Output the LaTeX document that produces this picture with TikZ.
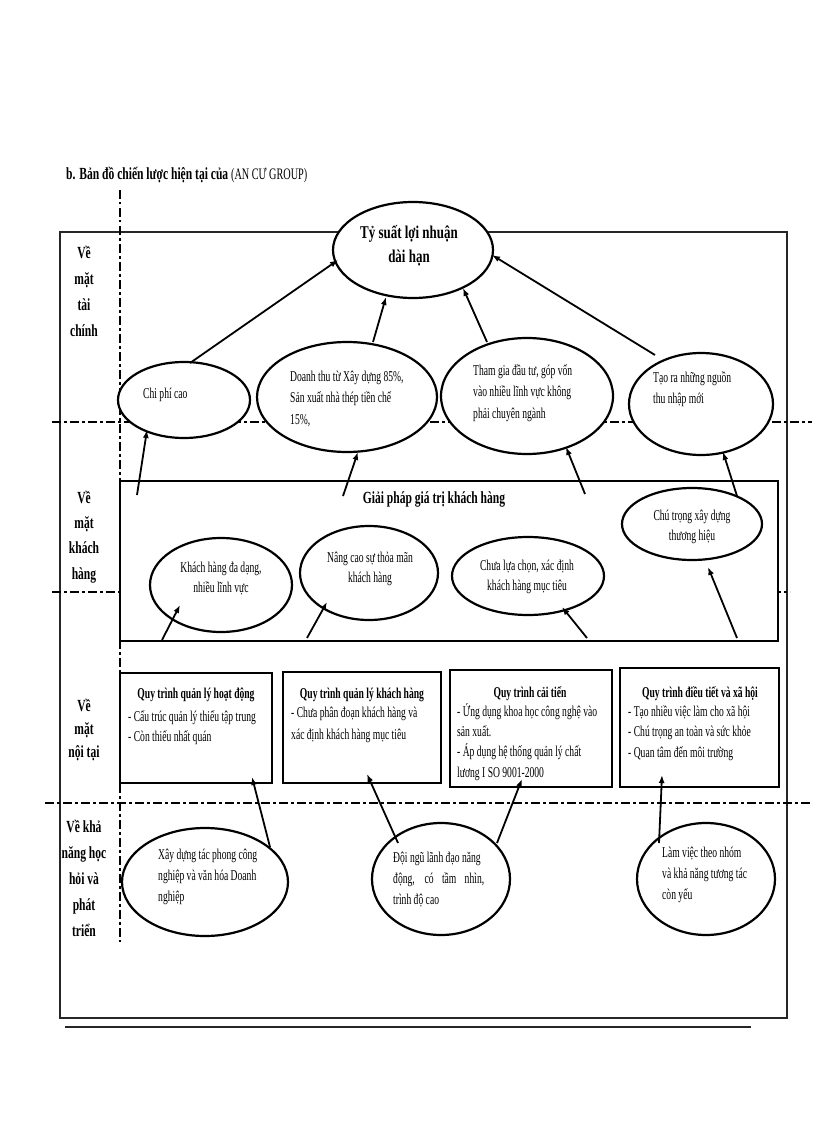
\documentclass[tikz,border=0pt]{standalone}
\usepackage{fontspec}
\setmainfont{Liberation Serif}
\newfontfamily\condA[FakeStretch=0.64]{Liberation Serif}
\newfontfamily\condB[FakeStretch=0.68]{Liberation Serif}
\newfontfamily\condC[FakeStretch=0.72]{Liberation Serif}
\usetikzlibrary{shapes.geometric,arrows.meta,calc}
\tikzset{
  ell/.style={ellipse, draw, line width=2.2pt, fill=white, inner sep=0pt},
  pbox/.style={rectangle, draw, line width=2.2pt, fill=white, inner sep=0pt},
  txt/.style={inner sep=0pt, font=\condA\fontsize{15}{21.5}\selectfont, align=left, anchor=base west},
  ctxt/.style={inner sep=0pt, font=\condA\fontsize{15}{20.5}\selectfont, align=center, anchor=base},
  btitle/.style={inner sep=0pt, font=\condA\bfseries\fontsize{15}{20}\selectfont, anchor=base},
  lab/.style={inner sep=0pt, align=center, anchor=base},
  arr/.style={-{Latex[length=8pt,width=6pt]}, line width=1.8pt},
  sep/.style={line width=1.6pt, dash pattern=on 9pt off 3pt on 2.5pt off 3.5pt},
  frame/.style={line width=1.6pt, draw=black!85}
}
\begin{document}
\begin{tikzpicture}[x=1pt,y=-1pt]
\useasboundingbox (0,0) rectangle (816,1123);
\fill[white] (0,0) rectangle (816,1123);

% title
\node[inner sep=0pt, anchor=base west] (title) at (66,180)
  {\condB\bfseries\fontsize{17}{20}\selectfont b. Bản đồ chiến lược hiện tại của {\condA\mdseries\fontsize{16}{20}\selectfont (AN CƯ GROUP)}};

% frame and separators
\draw[frame] (60,232) rectangle (787,1018);
\draw[line width=2pt, black!85] (65,1027) -- (751,1027);
\draw[sep] (52,422) -- (812,422);
\draw[sep] (52,592) -- (790,592);
\draw[sep] (45,803) -- (812,803);
\draw[sep] (120,190) -- (120,942);

% perspective labels (anchor = baseline of last line)
\node[lab, font=\condB\bfseries\fontsize{17}{25.7}\selectfont] (lfin) at (84,336) {Về\\mặt\\tài\\chính};
\node[lab, font=\condB\bfseries\fontsize{17}{25.3}\selectfont] (lcus) at (84,579) {Về\\mặt\\khách\\hàng};
\node[lab, font=\condB\bfseries\fontsize{17}{23}\selectfont] (lint) at (84,757) {Về\\mặt\\nội tại};
\node[lab, font=\condB\bfseries\fontsize{17}{25.8}\selectfont] (llrn) at (84,936) {Về khả\\năng học\\hỏi và\\phát\\triển};

% financial
\node[ell, minimum width=160pt, minimum height=96pt] (T) at (413,250) {};
\node[lab, font=\condC\bfseries\fontsize{18}{24}\selectfont] (tT) at (409,262) {Tỷ suất lợi nhuận\\dài hạn};

\node[ell, minimum width=132pt, minimum height=76pt] (C1) at (184,400) {};
\node[txt] (tC1) at (143,398) {Chi phí cao};
\node[ell, minimum width=180pt, minimum height=110pt] (C2) at (347,397) {};
\node[txt] (tC2) at (290,424) {Doanh thu từ Xây dựng 85\%,\\Sản xuất nhà thép tiền chế\\15\%,};
\node[ell, minimum width=172pt, minimum height=116pt] (C3) at (527,396) {};
\node[txt] (tC3) at (473,418) {Tham gia đầu tư, góp vốn\\vào nhiều lĩnh vực không\\phải chuyên ngành};
\node[ell, minimum width=144pt, minimum height=102pt] (C4) at (701,404) {};
\node[txt] (tC4) at (653,403.5) {Tạo ra những nguồn\\thu nhập mới};

% customer
\node[pbox, line width=2.5pt, minimum width=658pt, minimum height=160pt] (CB) at (449,561) {};
\node[lab, font=\condB\bfseries\fontsize{17}{20}\selectfont] (tCB) at (434,503) {Giải pháp giá trị khách hàng};
\node[ell, minimum width=142pt, minimum height=94pt] (KH) at (221,585) {};
\node[ctxt] (tKH) at (221,592.5) {Khách hàng đa dạng,\\nhiều lĩnh vực};
\node[ell, minimum width=138pt, minimum height=94pt] (NC) at (369,573) {};
\node[ctxt] (tNC) at (370,582.5) {Nâng cao sự thỏa mãn\\khách hàng};
\node[ell, minimum width=152pt, minimum height=78pt] (CL) at (528,576) {};
\node[ctxt] (tCL) at (527,590.5) {Chưa lựa chọn, xác định\\khách hàng mục tiêu};
\node[ell, minimum width=140pt, minimum height=72pt] (CH) at (692,524) {};
\node[ctxt] (tCH) at (692,540.5) {Chú trọng xây dựng\\thương hiệu};

% internal
\node[pbox, minimum width=152pt, minimum height=110pt] (P1) at (196,728) {};
\node[btitle] (hP1) at (196,698) {Quy trình quản lý hoạt động};
\node[txt, font=\condA\fontsize{15}{20}\selectfont] (tP1) at (128,741) {- Cấu trúc quản lý thiếu tập trung\\- Còn thiếu nhất quán};
\node[pbox, minimum width=158pt, minimum height=111pt] (P2) at (362,727.5) {};
\node[btitle] (hP2) at (362,698) {Quy trình quản lý khách hàng};
\node[txt, font=\condA\fontsize{15}{22}\selectfont] (tP2) at (291,739) {- Chưa phân đoạn khách hàng và\\xác định khách hàng mục tiêu};
\node[pbox, minimum width=162pt, minimum height=117pt] (P3) at (531,728.5) {};
\node[btitle] (hP3) at (530,697) {Quy trình cải tiến};
\node[txt, font=\condA\fontsize{15}{20.3}\selectfont] (tP3) at (457,777) {- Ứng dụng khoa học công nghệ vào\\sản xuất.\\- Áp dụng hệ thống quản lý chất\\lương I SO 9001-2000};
\node[pbox, minimum width=159pt, minimum height=119pt] (P4) at (699.5,727.5) {};
\node[btitle] (hP4) at (700,697) {Quy trình điều tiết và xã hội};
\node[txt, font=\condA\fontsize{15}{20.5}\selectfont] (tP4) at (628,757) {- Tạo nhiều việc làm cho xã hội\\- Chú trọng an toàn và sức khỏe\\- Quan tâm đến môi trường};

% learning
\node[ell, minimum width=166pt, minimum height=108pt] (L1) at (205,882) {};
\node[txt, font=\condA\fontsize{15}{21}\selectfont] (tL1) at (158,901) {Xây dựng tác phong công\\nghiệp và văn hóa Doanh\\nghiệp};
\node[ell, minimum width=138pt, minimum height=112pt] (L2) at (441,879) {};
\node[txt, font=\condA\fontsize{15}{21}\selectfont] (tL2) at (393,904) {Đội ngũ lãnh đạo năng\\\makebox[91pt][s]{động, có tầm nhìn,}\\trình độ cao};
\node[ell, minimum width=138pt, minimum height=112pt] (L3) at (706,879) {};
\node[txt, font=\condA\fontsize{15}{21}\selectfont] (tL3) at (662,899) {Làm việc theo nhóm\\và khả năng tương tác\\còn yếu};

% arrows: financial -> top
\draw[arr] ([shift={(6,-37)}]C1.center) -- ([shift={(-75,10)}]T.center);
\draw[arr] ([shift={(26,-55)}]C2.center) -- ([shift={(-27,47)}]T.center);
\draw[arr] ([shift={(-40,-54)}]C3.center) -- ([shift={(50,38)}]T.center);
\draw[arr] ([shift={(-46,-49)}]C4.center) -- ([shift={(79,5)}]T.center);
% customer -> financial
\draw[arr] ([shift={(-312,-66)}]CB.center) -- ([shift={(-37,30)}]C1.center);
\draw[arr] ([shift={(-106,-65)}]CB.center) -- ([shift={(11,55)}]C2.center);
\draw[arr] ([shift={(136,-67)}]CB.center) -- ([shift={(39,51)}]C3.center);
\draw[arr] ([shift={(45,-28)}]CH.center) -- ([shift={(22,48)}]C4.center);
% box bottom -> customer ellipses
\draw[arr] ([shift={(-287,79)}]CB.center) -- ([shift={(-41,20)}]KH.center);
\draw[arr] ([shift={(-142,77)}]CB.center) -- ([shift={(-42,29)}]NC.center);
\draw[arr] ([shift={(138,77)}]CB.center) -- ([shift={(34,31)}]CL.center);
\draw[arr] ([shift={(288,77)}]CB.center) -- ([shift={(16,43)}]CH.center);
% learning -> internal
\draw[arr] ([shift={(65,-35)}]L1.center) -- ([shift={(56,49)}]P1.center);
\draw[arr] ([shift={(-43,-36)}]L2.center) -- ([shift={(5,46.5)}]P2.center);
\draw[arr] ([shift={(56,-36)}]L2.center) -- ([shift={(-9,50.5)}]P3.center);
\draw[arr] ([shift={(-47,-36)}]L3.center) -- ([shift={(-37.5,47.5)}]P4.center);
\end{tikzpicture}
\end{document}
